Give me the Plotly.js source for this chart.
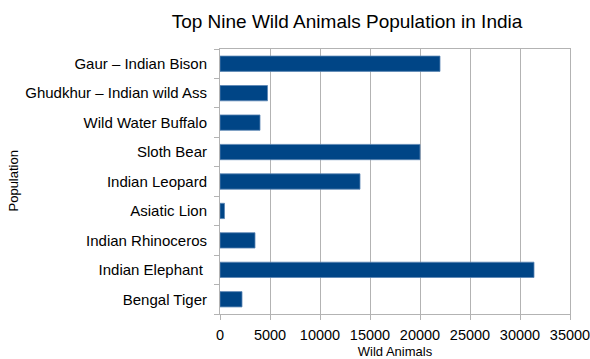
<!DOCTYPE html>
<html>
<head>
<meta charset="utf-8">
<script src="https://cdn.plot.ly/plotly-3.0.1.min.js"></script>
<style>
  html, body { margin: 0; padding: 0; background: #fff; }
  #chart { width: 590px; height: 359px; }
</style>
</head>
<body>
<div id="chart"></div>
<script>
// Species, listed bottom to top as they appear on the category axis
const animals = [
  "Bengal Tiger",
  "Indian Elephant\u00a0",
  "Indian Rhinoceros",
  "Asiatic Lion",
  "Indian Leopard",
  "Sloth Bear",
  "Wild Water Buffalo",
  "Ghudkhur \u2013 Indian wild Ass",
  "Gaur \u2013 Indian Bison"
];

// Estimated population of each species
const population = [2200, 31400, 3500, 450, 14000, 20000, 4000, 4750, 22000];

// Value axis ticks
const xTicks = [0, 5000, 10000, 15000, 20000, 25000, 30000, 35000];

const font = "Liberation Sans, Arial, sans-serif";
const gridGrey = "#b3b3b3";

const trace = {
  type: "bar",
  orientation: "h",
  y: animals,
  x: population,
  marker: { color: "#004586", line: { color: "#5a85b4", width: 0.8 } },
  hoverinfo: "y+x"
};

const plotLeft = 220, plotWidth = 350;

const layout = {
  width: 590,
  height: 359,
  margin: { l: plotLeft, r: 590 - plotLeft - plotWidth, t: 49, b: 45 },
  paper_bgcolor: "#fff",
  plot_bgcolor: "#fff",
  font: { family: font, color: "#000" },
  showlegend: false,
  bargap: 0.48,
  title: {
    text: "Top Nine Wild Animals Population in India",
    font: { family: font, size: 19, color: "#000" },
    x: 347 / 590, xanchor: "center",
    y: 0.94, yanchor: "middle"
  },
  xaxis: {
    range: [0, 35000],
    tickvals: xTicks,
    ticktext: xTicks.map(String),
    showgrid: true,
    gridcolor: gridGrey,
    gridwidth: 1,
    zeroline: false,
    showline: true,
    linecolor: gridGrey,
    linewidth: 1,
    mirror: true,
    ticks: "outside",
    ticklen: 5,
    tickcolor: gridGrey,
    ticklabelstandoff: 3,
    ticklabeloverflow: "allow",
    tickfont: { family: font, size: 14.5, color: "#000" },
    title: { text: "Wild Animals", font: { family: font, size: 13, color: "#000" } },
    automargin: false
  },
  yaxis: {
    type: "category",
    showgrid: false,
    showline: true,
    linecolor: gridGrey,
    linewidth: 1,
    mirror: true,
    ticks: "outside",
    tickson: "boundaries",
    ticklen: 5,
    tickcolor: gridGrey,
    ticklabelstandoff: 9,
    tickfont: { family: font, size: 15, color: "#000" },
    automargin: false
  },
  // Vertical title of the category axis, placed at the far left of the figure
  annotations: [{
    text: "Population",
    textangle: -90,
    xref: "paper", yref: "paper",
    x: (13 - plotLeft) / plotWidth, y: 0.5,
    xanchor: "center", yanchor: "middle",
    showarrow: false,
    font: { family: font, size: 13, color: "#000" }
  }]
};

Plotly.newPlot("chart", [trace], layout, { displayModeBar: false, staticPlot: true });
</script>
</body>
</html>
